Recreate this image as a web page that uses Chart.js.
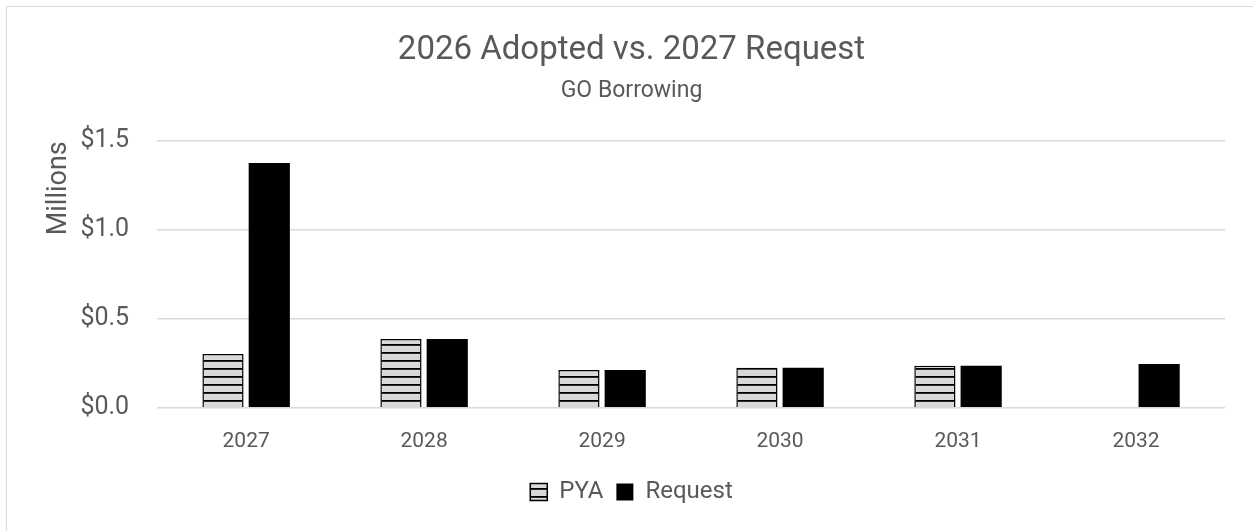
<!DOCTYPE html>
<html>
<head>
<meta charset="utf-8">
<script src="https://cdn.jsdelivr.net/npm/chart.js@4"></script>
<style>
  html, body { margin: 0; padding: 0; background: #fff; overflow: hidden; }
  #frame { position: absolute; left: 6px; top: 6px; width: 1270px; height: 540px; border: 1.5px solid #d9d9d9; }
  #wrap { position: absolute; left: 0; top: 0; width: 1253px; height: 531px; }
</style>
</head>
<body>
<div id="frame"></div>
<div id="wrap"><canvas id="chart"></canvas></div>
<script>
const years = ["2027", "2028", "2029", "2030", "2031", "2032"];
const pya = [0.303, 0.387, 0.213, 0.226, 0.237, null];
const request = [1.378, 0.387, 0.213, 0.226, 0.237, 0.246];
const yTicks = [0, 0.5, 1.0, 1.5];

// striped fill for the PYA bars
function stripes() {
  const c = document.createElement("canvas");
  c.width = 8; c.height = 8;
  const g = c.getContext("2d");
  g.fillStyle = "#d9d9d9";
  g.fillRect(0, 0, 8, 8);
  g.fillStyle = "#000";
  g.fillRect(0, 0, 8, 1.8);
  return g.createPattern(c, "repeat");
}

const grey = "#595959";
const font = "Roboto, 'Liberation Sans', sans-serif";

new Chart(document.getElementById("chart"), {
  type: "bar",
  data: {
    labels: years,
    datasets: [
      { label: "PYA", data: pya, backgroundColor: stripes(), borderColor: "#000", borderWidth: 1.5 },
      { label: "Request", data: request, backgroundColor: "#000", borderColor: "#000", borderWidth: 0 }
    ]
  },
  options: {
    responsive: true,
    maintainAspectRatio: false,
    animation: false,
    categoryPercentage: 0.52,
    barPercentage: 0.89,
    layout: { padding: { left: 14, right: 4, top: 23, bottom: 17 } },
    plugins: {
      title: {
        display: true,
        text: "2026 Adopted vs. 2027 Request",
        color: grey,
        font: { family: font, size: 33, weight: "normal" },
        padding: { top: 8, bottom: 4 }
      },
      subtitle: {
        display: true,
        text: "GO Borrowing",
        color: grey,
        font: { family: font, size: 23 },
        padding: { top: 3, bottom: 36 }
      },
      legend: {
        position: "bottom",
        labels: {
          color: grey,
          font: { family: font, size: 24 },
          boxWidth: 17,
          boxHeight: 17,
          padding: 13
        }
      },
      tooltip: { enabled: false }
    },
    scales: {
      x: {
        grid: { display: false },
        border: { display: false },
        ticks: { color: grey, font: { family: font, size: 21 }, padding: 13 }
      },
      y: {
        min: 0,
        max: 1.5,
        afterBuildTicks: axis => { axis.ticks = yTicks.map(v => ({ value: v })); },
        grid: { color: "#d9d9d9", lineWidth: 1.5, drawTicks: false },
        border: { display: false },
        ticks: {
          color: grey,
          font: { family: font, size: 25 },
          padding: 28,
          callback: v => "$" + Number(v).toFixed(1)
        },
        title: {
          display: true,
          text: "Millions",
          align: "end",
          color: grey,
          font: { family: font, size: 27 },
          padding: { top: 29, bottom: -23 }
        }
      },
      // empty right-hand strip so the plot stops short of the frame
      gap: {
        type: "linear",
        position: "right",
        grid: { display: false },
        border: { display: false },
        ticks: { display: false },
        afterFit: axis => { axis.width = 24; }
      }
    }
  }
});
</script>
</body>
</html>
